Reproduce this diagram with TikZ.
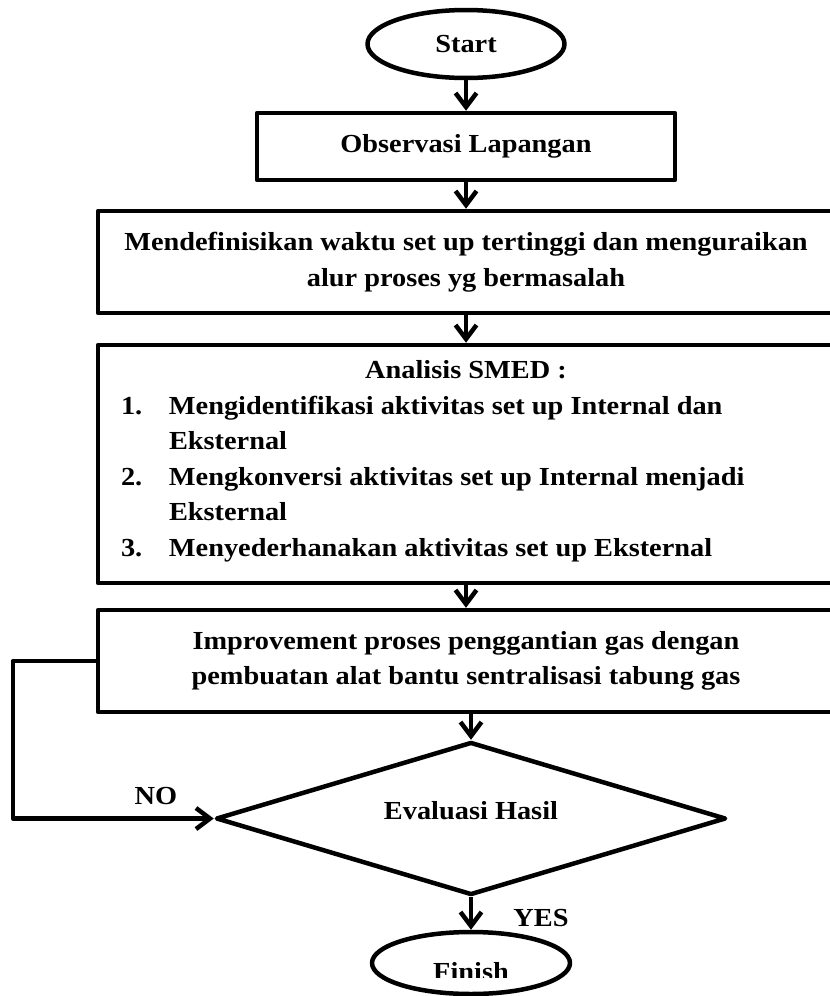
\documentclass[tikz,border=0pt]{standalone}
\usepackage{fontspec}
\setmainfont{Liberation Serif}[FakeStretch=1.09]
\usetikzlibrary{shapes.geometric,arrows.meta}

\newcommand{\flowfont}{\bfseries\fontsize{26pt}{35.5pt}\selectfont}

\begin{document}
\begin{tikzpicture}[x=1pt,y=-1pt,line join=round,
        every node/.style={font=\flowfont},
        terminal/.style={draw,ellipse,line width=4.5pt,inner sep=0pt,
        minimum width=197pt,minimum height=68pt},
        processbox/.style={draw,rectangle,line width=4.5pt,inner sep=0pt,
        minimum width=736pt},
        decision/.style={draw,diamond,aspect=3.27,line width=4.5pt,inner sep=0pt,
        minimum width=510pt,minimum height=153pt},
        flowline/.style={line width=4.5pt,-{Straight Barb[length=14pt,width=21pt]}}]

        \useasboundingbox (0,0) rectangle (830,996);
        \clip (0,0) rectangle (830,996);

        \node[terminal] (start) at (466,44) {Start};
        \node[processbox,minimum width=418pt,minimum height=67pt] (obs) at (466,146.5)
        {Observasi Lapangan};
        \node[processbox,minimum height=102pt,align=center] (def) at (466,262)
        {Mendefinisikan waktu set up tertinggi dan menguraikan\\alur proses yg bermasalah};
        \node[processbox,minimum height=238pt] (smed) at (466,464)
        {\begin{minipage}{690pt}
        {\centering Analisis SMED :\par}
        \raggedright\noindent\begin{tabular}[t]{@{}p{48pt}@{}l@{}}
        1. & Mengidentifikasi aktivitas set up Internal dan\\
           & Eksternal\\
        2. & Mengkonversi aktivitas set up Internal menjadi\\
           & Eksternal\\
        3. & Menyederhanakan aktivitas set up Eksternal
        \end{tabular}
        \end{minipage}};
        \node[processbox,minimum height=102pt,align=center] (imp) at (466,661)
        {Improvement proses penggantian gas dengan\\pembuatan alat bantu sentralisasi tabung gas};
        \node[decision] (eval) at (471,818.5) {\raisebox{17pt}{Evaluasi Hasil}};
        \node[terminal,minimum width=198pt,minimum height=62pt] (finish) at (471,963) {};
        \begin{scope}
        \clip (0,0) rectangle (830,977);
        \node (finishtext) at (471,972) {Finish};
        \end{scope}

        \node (no) at (156,796) {NO};
        \node (yes) at (541,918) {YES};

        \path[flowline]

        (start) edge (obs)

        (obs) edge (def)

        (def) edge (smed)

        (smed) edge (imp)

        (imp.south -| eval.north) edge (eval.north)

        (eval) edge (finish)

        ;

        \draw[flowline] (imp.west) -- ++(-83,0) |- (eval.west);
\end{tikzpicture}
\end{document}
